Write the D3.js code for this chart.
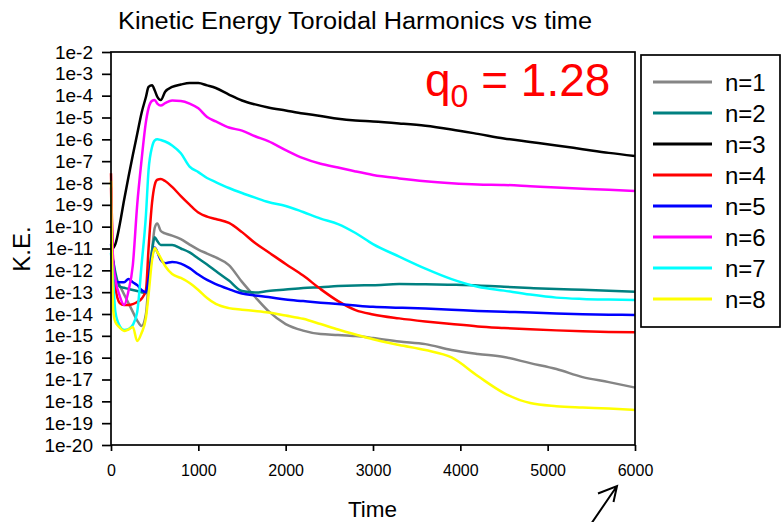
<!DOCTYPE html>
<html>
<head>
<meta charset="utf-8">
<script src="https://cdn.jsdelivr.net/npm/d3@7"></script>
<style>
  body { margin: 0; background: #fff; }
  svg { display: block; }
  text { font-family: "Liberation Sans", Arial, sans-serif; }
</style>
</head>
<body>
<div id="chart"></div>
<script>
// Time samples (shared by every harmonic)
const times = [0, 25, 50, 100, 150, 200, 250, 300, 350, 400, 430, 470, 500, 530, 570, 620, 700, 800, 900, 1000,
  1100, 1200, 1350, 1500, 1650, 1800, 2000, 2200, 2400, 2600, 2800, 3000, 3300, 3600, 3900, 4200, 4500, 4800,
  5100, 5400, 5700, 6000];

// log10 of the kinetic energy of each toroidal harmonic
const logKE_n1 = [-11.4, -11.6, -12.3, -12.7, -13.1, -13.5, -13.9, -14.3, -14.55, -14.0, -12.6, -11.1, -10.06, -9.85,
  -10.2, -10.31, -10.41, -10.57, -10.82, -11.05, -11.23, -11.41, -11.76, -12.53, -13.22, -13.86, -14.46, -14.76,
  -14.92, -14.96, -15.01, -15.1, -15.26, -15.38, -15.65, -15.83, -15.97, -16.25, -16.52, -16.89, -17.12, -17.37];
const logKE_n2 = [-11.4, -11.6, -12.1, -12.75, -12.8, -12.85, -12.9, -12.95, -13.0, -13.05, -12.2, -11.1, -10.48,
  -10.66, -10.84, -10.84, -10.84, -11.0, -11.18, -11.46, -11.73, -12.03, -12.47, -12.95, -13.02, -12.95, -12.88,
  -12.81, -12.77, -12.72, -12.69, -12.68, -12.63, -12.64, -12.66, -12.69, -12.75, -12.81, -12.86, -12.89, -12.93, -12.98];
const logKE_n3 = [-11.07, -10.98, -10.8, -9.9, -8.78, -7.73, -6.72, -5.76, -4.79, -4.06, -3.6, -3.52, -3.75, -4.05,
  -4.2, -3.82, -3.6, -3.49, -3.42, -3.42, -3.53, -3.65, -3.95, -4.22, -4.4, -4.54, -4.68, -4.82, -4.93, -5.06,
  -5.14, -5.18, -5.27, -5.38, -5.55, -5.75, -5.96, -6.12, -6.28, -6.45, -6.62, -6.76];
const logKE_n4 = [-7.55, -11.76, -12.76, -13.5, -13.59, -13.59, -13.55, -13.45, -13.3, -12.9, -11.0, -8.9, -8.1, -7.85,
  -7.82, -7.91, -8.18, -8.6, -8.99, -9.35, -9.54, -9.65, -9.83, -10.25, -10.75, -11.16, -11.71, -12.24, -12.86,
  -13.41, -13.82, -14.02, -14.2, -14.34, -14.46, -14.57, -14.64, -14.7, -14.75, -14.79, -14.82, -14.84];
const logKE_n5 = [-10.8, -11.6, -12.5, -12.55, -12.55, -12.4, -12.55, -12.68, -12.9, -13.0, -12.4, -11.4, -10.95,
  -11.16, -11.53, -11.67, -11.62, -11.69, -11.9, -12.19, -12.44, -12.63, -12.86, -13.06, -13.15, -13.22, -13.34,
  -13.41, -13.48, -13.54, -13.61, -13.67, -13.71, -13.75, -13.8, -13.86, -13.9, -13.93, -13.98, -14.01, -14.03, -14.05];
const logKE_n6 = [-8.2, -11.62, -12.4, -13.18, -13.59, -12.95, -11.76, -9.0, -6.95, -5.2, -4.57, -4.24, -4.2, -4.36,
  -4.45, -4.34, -4.22, -4.24, -4.36, -4.58, -4.98, -5.18, -5.46, -5.6, -5.86, -6.08, -6.49, -6.86, -7.12, -7.29,
  -7.47, -7.63, -7.79, -7.92, -8.01, -8.07, -8.09, -8.15, -8.21, -8.26, -8.31, -8.37];
const logKE_n7 = [-11.2, -12.5, -13.91, -14.55, -14.73, -14.69, -14.5, -13.91, -11.76, -9.47, -7.41, -6.35, -6.05,
  -6.0, -6.03, -6.1, -6.28, -6.64, -7.25, -7.5, -7.77, -7.96, -8.23, -8.46, -8.67, -8.87, -9.05, -9.33, -9.63,
  -9.88, -10.29, -10.8, -11.37, -11.92, -12.4, -12.75, -12.93, -13.11, -13.25, -13.31, -13.34, -13.36];
const logKE_n8 = [-7.9, -13.82, -14.37, -14.62, -14.78, -14.71, -14.6, -15.24, -14.87, -14.18, -13.13, -11.53, -10.98,
  -11.16, -11.44, -11.8, -12.17, -12.35, -12.58, -12.9, -13.27, -13.54, -13.73, -13.8, -13.86, -13.93, -14.07,
  -14.22, -14.46, -14.71, -14.94, -15.16, -15.42, -15.65, -15.99, -16.84, -17.62, -18.08, -18.22, -18.28, -18.33, -18.4];

const seriesNames = ["n=1", "n=2", "n=3", "n=4", "n=5", "n=6", "n=7", "n=8"];
const seriesColors = ["#858585", "#008080", "#000000", "#ff0000", "#0000ff", "#ff00ff", "#00ffff", "#ffff00"];
const seriesData = [logKE_n1, logKE_n2, logKE_n3, logKE_n4, logKE_n5, logKE_n6, logKE_n7, logKE_n8];

// Axis ticks
const xTicks = [0, 1000, 2000, 3000, 4000, 5000, 6000];
const yTickExponents = [-2, -3, -4, -5, -6, -7, -8, -9, -10, -11, -12, -13, -14, -15, -16, -17, -18, -19, -20];

// Chart dimensions
const width = 782;
const height = 522;
const margin = { top: 52, right: 147, bottom: 77, left: 111 };
const innerWidth = width - margin.left - margin.right;
const innerHeight = height - margin.top - margin.bottom;

const svg = d3.select("#chart")
  .append("svg")
  .attr("width", width)
  .attr("height", height);

const chart = svg.append("g")
  .attr("transform", `translate(${margin.left}, ${margin.top})`);

// Scales
const xScale = d3.scaleLinear().domain([0, 6000]).range([0, innerWidth]);
const yScale = d3.scaleLog().domain([1e-20, 1e-2]).range([innerHeight, 0]);

// Lines
const line = d3.line()
  .x((d, i) => xScale(times[i]))
  .y(d => yScale(Math.pow(10, d)))
  .curve(d3.curveMonotoneX);

chart.selectAll(".series")
  .data(seriesData)
  .enter()
  .append("path")
  .attr("class", "series")
  .attr("d", d => line(d))
  .attr("fill", "none")
  .attr("stroke", (d, i) => seriesColors[i])
  .attr("stroke-width", 2.5)
  .attr("stroke-linejoin", "round");

// Frame
chart.append("rect")
  .attr("x", 0).attr("y", 0)
  .attr("width", innerWidth).attr("height", innerHeight)
  .attr("fill", "none")
  .attr("stroke", "#000")
  .attr("stroke-width", 1.7);

// X axis
const xAxis = d3.axisBottom(xScale)
  .tickValues(xTicks)
  .tickSize(6)
  .tickPadding(14)
  .tickFormat(d => d);
const gx = chart.append("g")
  .attr("transform", `translate(0, ${innerHeight})`)
  .call(xAxis)
  .attr("font-family", '"Liberation Sans", Arial, sans-serif')
  .attr("font-size", 16);
gx.select(".domain").remove();
gx.selectAll("line").attr("stroke-width", 1.7);
gx.selectAll("text").attr("fill", "#000");

// Y axis
const yAxis = d3.axisLeft(yScale)
  .tickValues(yTickExponents.map(e => Math.pow(10, e)))
  .tickSize(9)
  .tickPadding(9)
  .tickFormat(d => "1e" + Math.round(Math.log10(d)));
const gy = chart.append("g")
  .call(yAxis)
  .attr("font-family", '"Liberation Sans", Arial, sans-serif')
  .attr("font-size", 19);
gy.select(".domain").remove();
gy.selectAll("line").attr("stroke-width", 1.7);
gy.selectAll("text").attr("fill", "#000");

// Title
svg.append("text")
  .attr("x", 118)
  .attr("y", 28.5)
  .attr("font-size", 23)
  .attr("textLength", 474)
  .attr("lengthAdjust", "spacingAndGlyphs")
  .text("Kinetic Energy Toroidal Harmonics vs time");

// Axis labels
svg.append("text")
  .attr("x", 372.5)
  .attr("y", 517)
  .attr("text-anchor", "middle")
  .attr("font-size", 22.5)
  .text("Time");

svg.append("text")
  .attr("transform", "translate(30, 249) rotate(-90)")
  .attr("text-anchor", "middle")
  .attr("font-size", 24)
  .text("K.E.");

// q0 annotation
const q = svg.append("text")
  .attr("x", 425)
  .attr("y", 96)
  .attr("fill", "#ff0000")
  .attr("font-size", 46);
q.append("tspan").text("q");
q.append("tspan").attr("font-size", 32).attr("dy", 11).text("0");
q.append("tspan").attr("dy", -11).text(" = 1.28");

// Legend
const legend = svg.append("g").attr("transform", "translate(641, 55)");
legend.append("rect")
  .attr("width", 139)
  .attr("height", 272)
  .attr("fill", "#fff")
  .attr("stroke", "#000")
  .attr("stroke-width", 1.7);
const items = legend.selectAll(".item")
  .data(seriesNames)
  .enter()
  .append("g")
  .attr("class", "item")
  .attr("transform", (d, i) => `translate(0, ${27 + i * 31})`);
items.append("line")
  .attr("x1", 12).attr("x2", 71)
  .attr("stroke", (d, i) => seriesColors[i])
  .attr("stroke-width", 3);
items.append("text")
  .attr("x", 84)
  .attr("dy", "0.36em")
  .attr("font-size", 24)
  .text(d => d);

// Arrow pointing at the 6000 label
svg.append("path")
  .attr("d", "M591,524 L617,486 M598,493.5 L617,486 L613.5,502")
  .attr("fill", "none")
  .attr("stroke", "#000")
  .attr("stroke-width", 2);
</script>
</body>
</html>
